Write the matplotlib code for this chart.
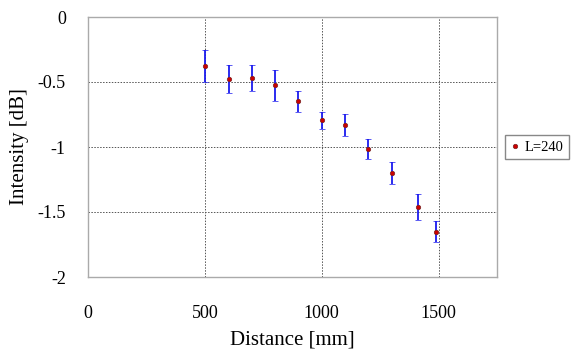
import matplotlib
matplotlib.use("Agg")
import matplotlib.pyplot as plt
from matplotlib.lines import Line2D

# Values
distance = [500, 605, 700, 800, 900, 1000, 1100, 1200, 1300, 1410, 1490]
intensity = [-0.375, -0.477, -0.467, -0.526, -0.649, -0.795, -0.831, -1.015, -1.2, -1.462, -1.651]
error = [0.125, 0.11, 0.1, 0.118, 0.083, 0.067, 0.088, 0.075, 0.083, 0.1, 0.08]
x_ticks = [0, 500, 1000, 1500]
y_ticks = [0, -0.5, -1, -1.5, -2]
y_tick_labels = ["0", "-0.5", "-1", "-1.5", "-2"]

plt.rcParams["font.family"] = ["Liberation Serif", "DejaVu Serif"]

fig = plt.figure(figsize=(5.72, 3.5), dpi=100)
ax = fig.add_axes([88 / 572, 1 - 277 / 350, (497 - 88) / 572, (277 - 17) / 350])

ax.errorbar(distance, intensity, yerr=error, fmt="o", color="#cc0000",
            markersize=3.2, markeredgecolor="#772222", markeredgewidth=0.5,
            ecolor="#1a1aee", elinewidth=1.3, capsize=2.5, capthick=1.3,
            zorder=3)

ax.set_xlim(0, 1750)
ax.set_ylim(-2, 0)
ax.set_xticks(x_ticks)
ax.set_yticks(y_ticks)
ax.set_yticklabels(y_tick_labels)
ax.tick_params(length=0, labelsize=13)
ax.tick_params(axis="x", pad=20)
ax.tick_params(axis="y", pad=16)
ax.grid(True, color="#555555", linestyle=(0, (1.5, 1.5)), linewidth=0.7)
for s in ax.spines.values():
    s.set_color("#aaaaaa")
    s.set_linewidth(1)

ax.set_xlabel("Distance [mm]", fontsize=15, labelpad=6)
ax.set_ylabel("Intensity [dB]", fontsize=15, labelpad=6)

# legend shows only the marker, like the original
handle = Line2D([], [], linestyle="none", marker="o", markersize=3.2,
                color="#cc0000", markeredgecolor="#772222", markeredgewidth=0.5)
ax.legend([handle], ["L=240"], loc="center left", bbox_to_anchor=(1.02, 0.5),
          fontsize=10.5, frameon=True, fancybox=False, edgecolor="#888888",
          handlelength=0.6, handletextpad=0.4, borderpad=0.35, borderaxespad=0,
          framealpha=1)

fig.savefig("out.png", dpi=100)
